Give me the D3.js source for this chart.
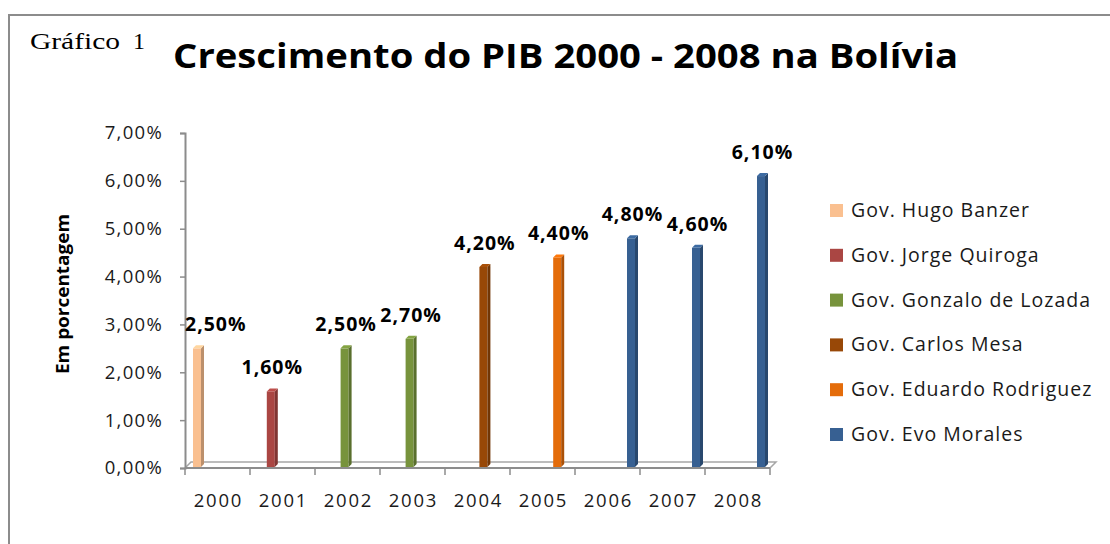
<!DOCTYPE html>
<html>
<head>
<meta charset="utf-8">
<script src="https://cdn.jsdelivr.net/npm/d3@7"></script>
<style>
	body { margin: 0; background: #fff; }
	svg { display: block; }
	text { font-family: 'Open Sans', sans-serif; }
</style>
</head>
<body>
<div id="chart"></div>
<script>
// ********** DATA **********
const years = ['2000', '2001', '2002', '2003', '2004', '2005', '2006', '2007', '2008'];
const growth = [2.5, 1.6, 2.5, 2.7, 4.2, 4.4, 4.8, 4.6, 6.1];
// which government (series) each year belongs to
const govOfYear = [0, 1, 2, 2, 3, 4, 5, 5, 5];
const governments = [
	'Gov. Hugo Banzer',
	'Gov. Jorge Quiroga',
	'Gov. Gonzalo de Lozada',
	'Gov. Carlos Mesa',
	'Gov. Eduardo Rodriguez',
	'Gov. Evo Morales'
];
const yTicks = [0, 1, 2, 3, 4, 5, 6, 7];

// colours per government
const govColors = ['#fac090', '#aa4643', '#77933c', '#984807', '#e46c0a', '#376092'];

const width = 1110;
const height = 544;
const axisGray = '#8c8c8c';
const depth = 3;

const svg = d3.select('#chart')
	.append('svg')
	.attr('width', width)
	.attr('height', height);

// Outer frame (only left and top are visible)
svg.append('path')
	.attr('d', `M9,${height} V15 H${width}`)
	.attr('fill', 'none')
	.attr('stroke', axisGray)
	.attr('stroke-width', 2);

// "Gráfico 1"
svg.append('text')
	.attr('x', 30)
	.attr('y', 49)
	.style('font-family', "'Liberation Serif', serif")
	.attr('font-size', 24)
	.attr('textLength', 90)
	.attr('lengthAdjust', 'spacingAndGlyphs')
	.text('Gráfico');
svg.append('text')
	.attr('x', 133)
	.attr('y', 49)
	.style('font-family', "'Liberation Serif', serif")
	.attr('font-size', 24)
	.text('1');

// Title
svg.append('text')
	.attr('x', 173)
	.attr('y', 68)
	.attr('font-size', 34)
	.attr('font-weight', 'bold')
	.attr('textLength', 785)
	.attr('lengthAdjust', 'spacingAndGlyphs')
	.text('Crescimento do PIB 2000 - 2008 na Bolívia');

// Scales
const x0 = d3.scaleBand()
	.domain(years)
	.range([185, 770]);

const x1 = d3.scaleBand()
	.domain(d3.range(governments.length))
	.range([8.6, 61.4]);

const y = d3.scaleLinear()
	.domain([0, 7])
	.range([468, 133]);

// Floor (3D base)
const [fx0, fx1] = x0.range();
svg.append('path')
	.attr('d', `M${fx0},${y(0)} L${fx0 + 6},${y(0) - 6} H${fx1 + 6} L${fx1},${y(0)}`)
	.attr('fill', 'none')
	.attr('stroke', '#a6a6a6')
	.attr('stroke-width', 1.5);

// Y axis
const yAxis = svg.append('g')
	.attr('transform', `translate(${fx0},0)`)
	.call(d3.axisLeft(y)
		.tickValues(yTicks)
		.tickSize(5)
		.tickPadding(17)
		.tickFormat(d => d.toFixed(2).replace('.', ',') + '%'));
yAxis.select('.domain').attr('stroke', axisGray).attr('stroke-width', 2);
yAxis.selectAll('.tick line').attr('stroke', axisGray).attr('stroke-width', 1.5);
yAxis.selectAll('.tick text')
	.attr('font-size', 18.5)
	.attr('letter-spacing', 1.3)
	.attr('fill', '#1a1a1a')
	.style('font-family', "'Open Sans', sans-serif");

// X axis: line with ticks at category boundaries
const xAxis = svg.append('g').attr('class', 'x-axis');
xAxis.append('line')
	.attr('x1', fx0).attr('x2', fx1)
	.attr('y1', y(0)).attr('y2', y(0))
	.attr('stroke', axisGray)
	.attr('stroke-width', 2);
xAxis.selectAll('line.tick')
	.data(years.map(d => x0(d)).concat([fx1]))
	.enter()
	.append('line')
	.attr('class', 'tick')
	.attr('x1', d => d).attr('x2', d => d)
	.attr('y1', y(0)).attr('y2', y(0) + 7)
	.attr('stroke', axisGray)
	.attr('stroke-width', 1.5);
xAxis.selectAll('text')
	.data(years)
	.enter()
	.append('text')
	.attr('x', d => x0(d) + x0.bandwidth() / 2 + 1)
	.attr('y', 507)
	.attr('text-anchor', 'middle')
	.attr('font-size', 18.5)
	.attr('letter-spacing', 1.8)
	.attr('fill', '#1a1a1a')
	.text(d => d);

// Y axis title
svg.append('text')
	.attr('transform', 'translate(69, 294) rotate(-90)')
	.attr('text-anchor', 'middle')
	.attr('font-size', 17)
	.attr('font-weight', 'bold')
	.attr('textLength', 160)
	.attr('lengthAdjust', 'spacingAndGlyphs')
	.text('Em porcentagem');

// Bars (3D look: front, side and top faces)
const barData = years.map((yr, i) => ({
	year: yr,
	value: growth[i],
	gov: govOfYear[i]
}));
const frontW = 8;
const barX = d => x0(d.year) + x1(d.gov) + x1.bandwidth() / 2 - 5;

const bars = svg.append('g').attr('class', 'bars')
	.selectAll('g.bar')
	.data(barData)
	.enter()
	.append('g')
	.attr('class', 'bar');

bars.append('rect')
	.attr('x', barX)
	.attr('y', d => y(d.value))
	.attr('width', frontW)
	.attr('height', d => y(0) - 1 - y(d.value))
	.attr('fill', d => govColors[d.gov]);

bars.append('path')
	.attr('d', d => {
		const x = barX(d) + frontW, t = y(d.value), b = y(0) - 1;
		return `M${x},${t} L${x + depth},${t - depth} V${b - depth} L${x},${b} Z`;
	})
	.attr('fill', d => d3.color(govColors[d.gov]).darker(0.8));

bars.append('path')
	.attr('d', d => {
		const x = barX(d), t = y(d.value);
		return `M${x},${t} L${x + depth},${t - depth} H${x + frontW + depth} L${x + frontW},${t} Z`;
	})
	.attr('fill', d => d3.color(govColors[d.gov]).brighter(0.3));

// Value labels
const labels = svg.append('g').attr('class', 'labels')
	.selectAll('text')
	.data(barData)
	.enter()
	.append('text')
	.attr('y', d => y(d.value) - 17)
	.attr('text-anchor', 'middle')
	.attr('font-size', 19.5)
	.attr('font-weight', 'bold')
	.attr('letter-spacing', 1)
	.attr('fill', '#000')
	.text(d => d.value.toFixed(2).replace('.', ',') + '%');
// keep labels inside the plot area (left side)
labels.attr('x', function (d) {
	const w = this.getComputedTextLength();
	return Math.max(barX(d) + 5.5, fx0 + w / 2);
});

// Legend
const legend = svg.append('g')
	.attr('class', 'legendGroup')
	.attr('transform', 'translate(830, 210)');

legend.selectAll('rect')
	.data(governments)
	.enter()
	.append('rect')
	.attr('x', 0)
	.attr('y', (d, i) => i * 44.8 - 6)
	.attr('width', 13)
	.attr('height', 13)
	.attr('fill', (d, i) => govColors[i]);

legend.selectAll('text')
	.data(governments)
	.enter()
	.append('text')
	.attr('x', 21)
	.attr('y', (d, i) => i * 44.8 + 7)
	.attr('font-size', 19.5)
	.attr('letter-spacing', 1)
	.attr('fill', '#1a1a1a')
	.text(d => d);
</script>
</body>
</html>
